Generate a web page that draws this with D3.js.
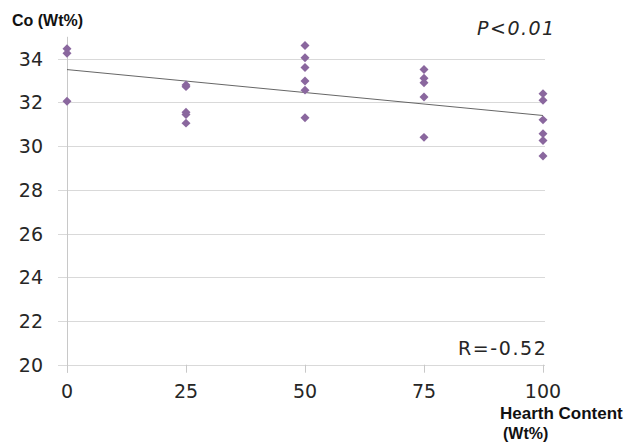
<!DOCTYPE html>
<html>
<head>
<meta charset="utf-8">
<script src="https://cdn.jsdelivr.net/npm/d3@7"></script>
<style>
  body { margin: 0; background: #fff; }
  text { font-family: "DejaVu Sans", Verdana, sans-serif; fill: #262626; }
</style>
</head>
<body>
<div id="chart"></div>
<script>
var svgWidth = 629;
var svgHeight = 448;

// hearth content (Wt%) of each sample and its Co content (Wt%)
var hearth = [0, 0, 0,
  25, 25, 25, 25, 25,
  50, 50, 50, 50, 50, 50,
  75, 75, 75, 75, 75,
  100, 100, 100, 100, 100, 100];
var cobalt = [34.45, 34.25, 32.05,
  32.8, 32.72, 31.55, 31.45, 31.05,
  34.6, 34.04, 33.6, 32.98, 32.56, 31.3,
  33.5, 33.1, 32.9, 32.25, 30.4,
  32.4, 32.1, 31.2, 30.57, 30.26, 29.55];

// fitted line
var trendX = [0, 100];
var trendY = [33.5, 31.4];

var xTicks = [0, 25, 50, 75, 100];
var yTicks = [20, 22, 24, 26, 28, 30, 32, 34];

var svg = d3.select("#chart")
  .append("svg")
  .attr("width", svgWidth)
  .attr("height", svgHeight);

var x = d3.scaleLinear().domain([0, 100]).range([67, 543]);
var y = d3.scaleLinear().domain([20, 35]).range([364.7, 36.8]);

// horizontal gridlines (they run a bit left of the axis like Excel ticks)
svg.append("g").selectAll("line")
  .data(yTicks)
  .enter()
  .append("line")
  .attr("x1", 58)
  .attr("x2", 545)
  .attr("y1", d => Math.round(y(d)) + 0.5)
  .attr("y2", d => Math.round(y(d)) + 0.5)
  .attr("stroke", "#d9d9d9")
  .attr("stroke-width", 1);

// vertical axis line
svg.append("line")
  .attr("x1", Math.round(x(0)) + 0.5)
  .attr("x2", Math.round(x(0)) + 0.5)
  .attr("y1", y(35))
  .attr("y2", y(20) + 8)
  .attr("stroke", "#c8c8c8");

// x tick marks
svg.append("g").selectAll("line")
  .data(xTicks)
  .enter()
  .append("line")
  .attr("x1", d => Math.round(x(d)) + 0.5)
  .attr("x2", d => Math.round(x(d)) + 0.5)
  .attr("y1", y(20))
  .attr("y2", y(20) + 8)
  .attr("stroke", "#c8c8c8");

// tick labels
svg.append("g").selectAll("text")
  .data(yTicks)
  .enter()
  .append("text")
  .attr("x", 43)
  .attr("y", d => y(d) + 7)
  .attr("text-anchor", "end")
  .style("font-size", "19px")
  .text(d => d);

svg.append("g").selectAll("text")
  .data(xTicks)
  .enter()
  .append("text")
  .attr("x", d => x(d))
  .attr("y", 398)
  .attr("text-anchor", "middle")
  .style("font-size", "19px")
  .text(d => d);

// trend line
svg.append("line")
  .attr("x1", x(trendX[0]))
  .attr("y1", y(trendY[0]))
  .attr("x2", x(trendX[1]))
  .attr("y2", y(trendY[1]))
  .attr("stroke", "#555")
  .attr("stroke-width", 0.9);

// diamond markers
var diamond = d3.symbol().type(d3.symbolSquare).size(40);
svg.append("g").selectAll("path")
  .data(cobalt)
  .enter()
  .append("path")
  .attr("d", diamond)
  .attr("transform", (d, i) => `translate(${x(hearth[i])}, ${y(d)}) rotate(45)`)
  .attr("fill", "#8a679e");

// labels
svg.append("text")
  .attr("x", 12)
  .attr("y", 26)
  .style("font-family", "'Liberation Sans', Arial, sans-serif")
  .style("font-weight", "bold")
  .style("font-size", "16px")
  .style("fill", "#111")
  .text("Co (Wt%)");

svg.append("text")
  .attr("x", 477)
  .attr("y", 35)
  .style("font-size", "19px")
  .style("font-style", "italic")
  .style("letter-spacing", "1.5px")
  .text("P<0.01");

svg.append("text")
  .attr("x", 458)
  .attr("y", 355)
  .style("font-size", "19px")
  .style("letter-spacing", "1.6px")
  .text("R=-0.52");

svg.append("text")
  .attr("x", 500)
  .attr("y", 419)
  .style("font-family", "'Liberation Sans', Arial, sans-serif")
  .style("font-weight", "bold")
  .style("font-size", "17px")
  .style("fill", "#111")
  .text("Hearth Content");

svg.append("text")
  .attr("x", 503)
  .attr("y", 439)
  .style("font-family", "'Liberation Sans', Arial, sans-serif")
  .style("font-weight", "bold")
  .style("font-size", "16px")
  .style("fill", "#111")
  .text("(Wt%)");
</script>
</body>
</html>
